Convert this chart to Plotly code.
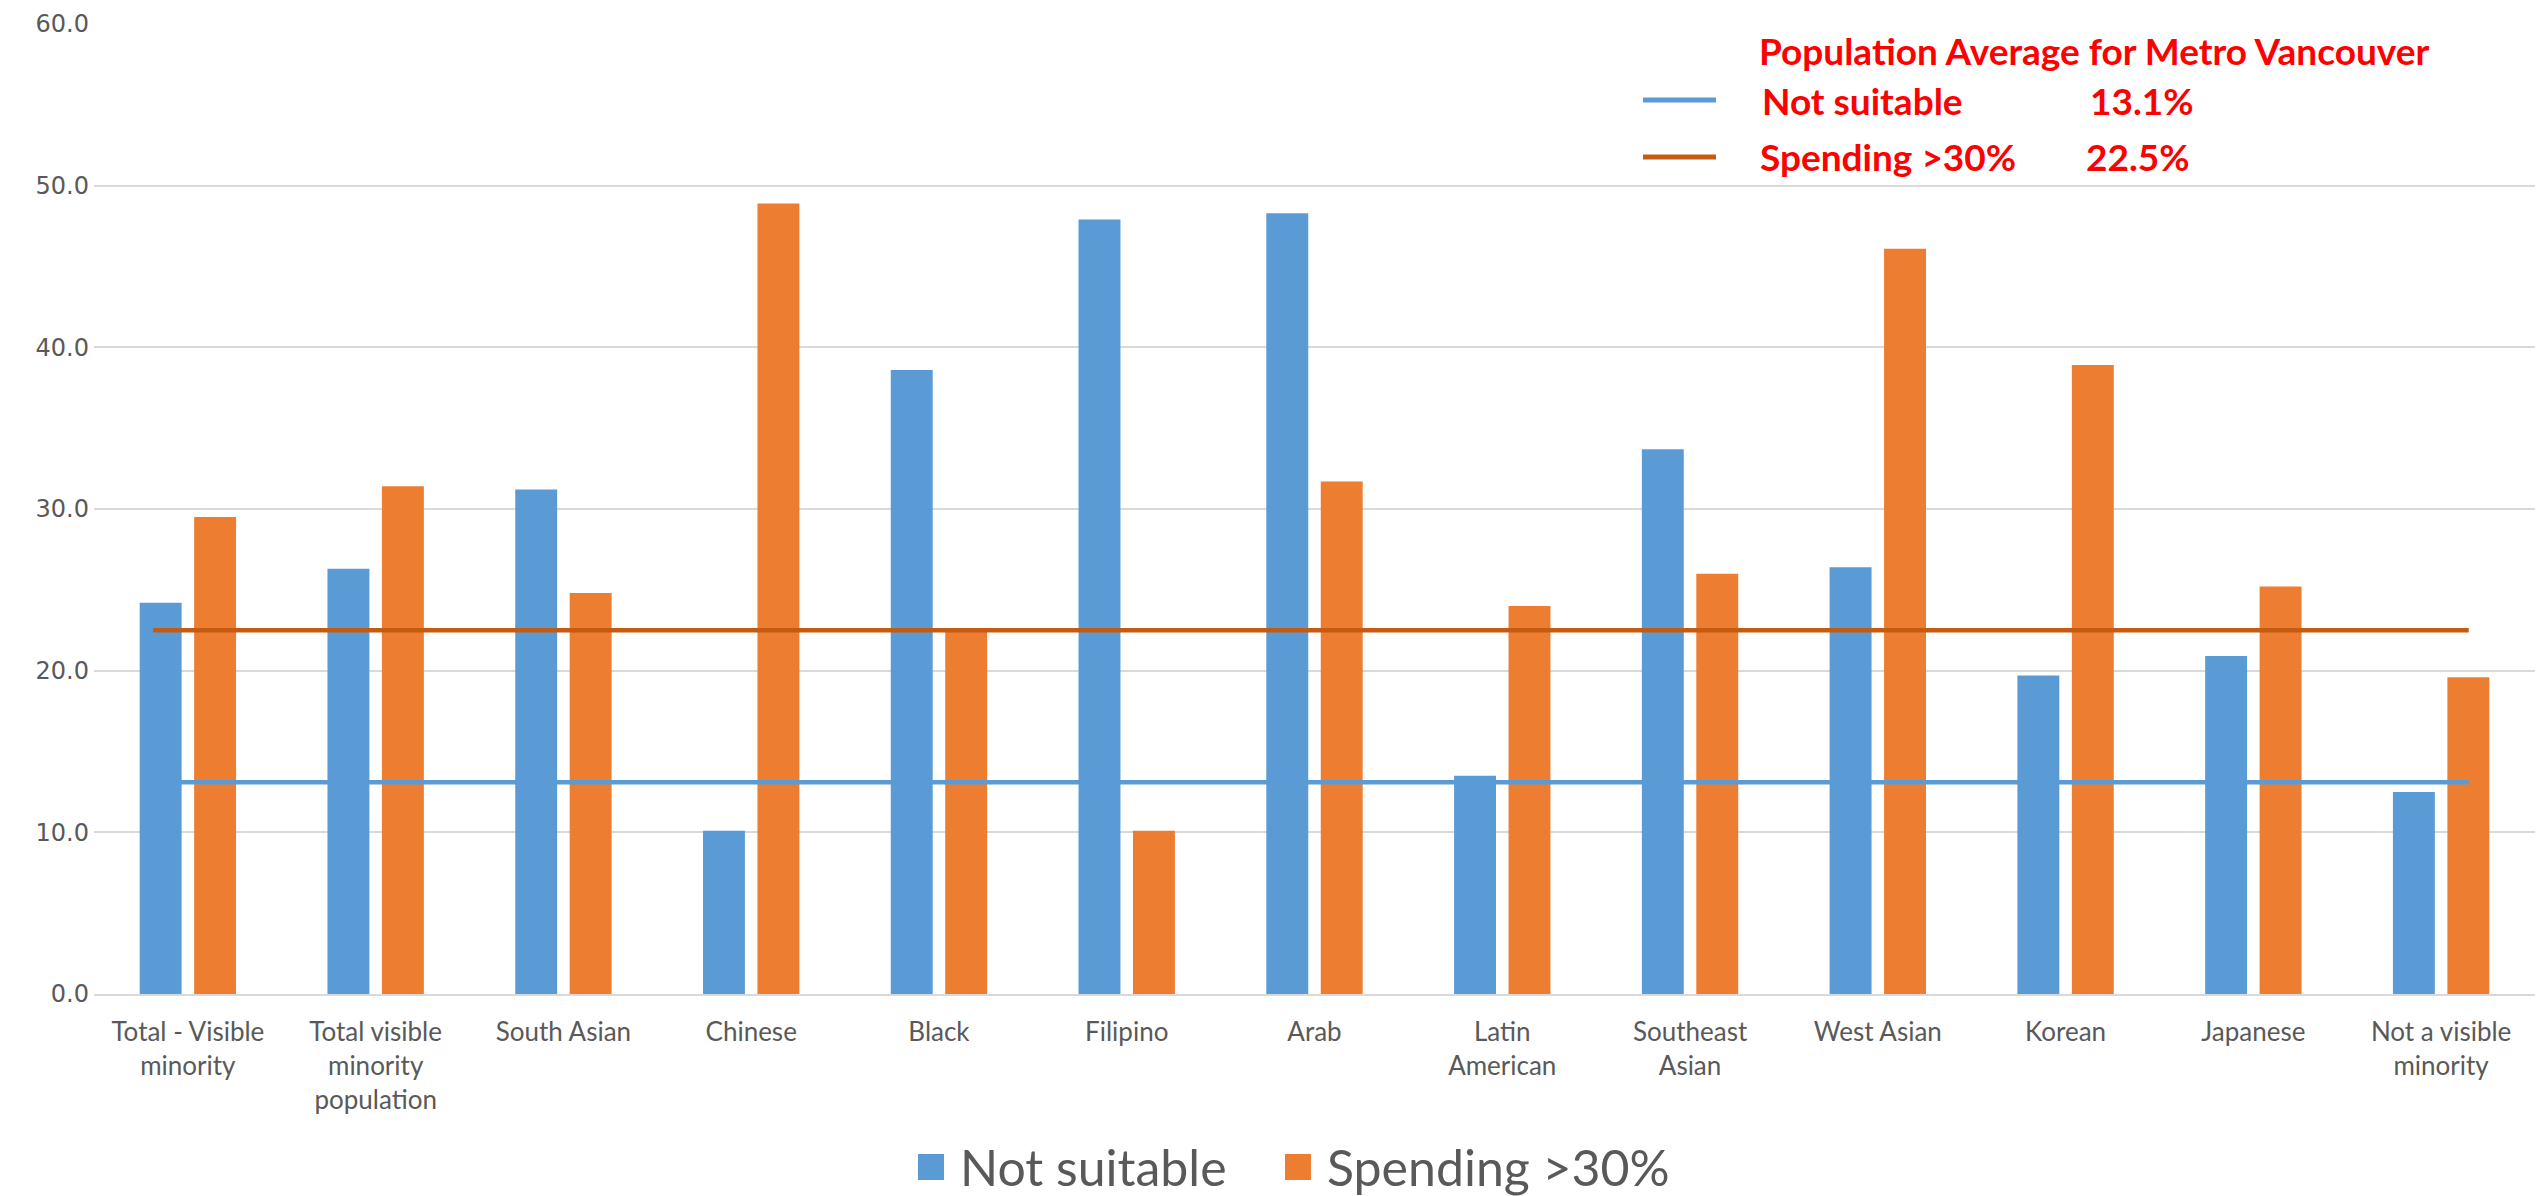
import plotly.graph_objects as go

# Housing indicators by visible minority group, Metro Vancouver (%)
categories = [
    "Total - Visible<br>minority",
    "Total visible<br>minority<br>population",
    "South Asian",
    "Chinese",
    "Black",
    "Filipino",
    "Arab",
    "Latin<br>American",
    "Southeast<br>Asian",
    "West Asian",
    "Korean",
    "Japanese",
    "Not a visible<br>minority",
]
not_suitable = [24.2, 26.3, 31.2, 10.1, 38.6, 47.9, 48.3, 13.5, 33.7, 26.4, 19.7, 20.9, 12.5]
spending_30 = [29.5, 31.4, 24.8, 48.9, 22.6, 10.1, 31.7, 24.0, 26.0, 46.1, 38.9, 25.2, 19.6]

# Metro Vancouver population averages
avg_not_suitable = 13.1
avg_spending_30 = 22.5

y_ticks = [0, 10, 20, 30, 40, 50, 60]

BLUE = "#5B9BD5"
ORANGE = "#ED7D31"
DARK_ORANGE = "#C55A11"
GRID = "#D9D9D9"
TEXT = "#595959"
RED = "#FF0000"

W, H = 2539, 1196
M_L, M_R, M_T, M_B = 94, 4, 24, 202
PW, PH = W - M_L - M_R, H - M_T - M_B


def px(x):
    """Canvas x pixel -> paper fraction."""
    return (x - M_L) / PW


def py(y):
    """Canvas y pixel -> paper fraction."""
    return (H - M_B - y) / PH


idx = list(range(len(categories)))

fig = go.Figure()
fig.add_trace(go.Bar(x=idx, y=not_suitable, name="Not suitable",
                     marker=dict(color=BLUE, line=dict(width=0)), showlegend=False))
fig.add_trace(go.Bar(x=idx, y=spending_30, name="Spending >30%",
                     marker=dict(color=ORANGE, line=dict(width=0)), showlegend=False))

# average reference lines spanning the categories
line_x = [idx[0] - 0.185, idx[-1] + 0.147]
fig.add_trace(go.Scatter(x=line_x, y=[avg_not_suitable] * 2, mode="lines",
                         line=dict(color=BLUE, width=4.5), showlegend=False,
                         hoverinfo="skip"))
fig.add_trace(go.Scatter(x=line_x, y=[avg_spending_30] * 2, mode="lines",
                         line=dict(color=DARK_ORANGE, width=4.5), showlegend=False,
                         hoverinfo="skip"))

shapes = []
annotations = []

# key box for the averages (top right)
BOX_FONT = dict(family="Lato", size=37, color=RED)
annotations.append(dict(xref="paper", yref="paper", x=px(2094), y=py(50),
                        text="<b>Population Average for Metro Vancouver</b>",
                        showarrow=False, xanchor="center", yanchor="middle",
                        font=BOX_FONT))
for yy, col, label, val, xl, xv in [
    (100, BLUE, "Not suitable", avg_not_suitable, 1760, 2088),
    (157, DARK_ORANGE, "Spending >30%", avg_spending_30, 1758, 2084),
]:
    shapes.append(dict(type="line", xref="paper", yref="paper",
                       x0=px(1643), x1=px(1716), y0=py(yy), y1=py(yy),
                       line=dict(color=col, width=5)))
    annotations.append(dict(xref="paper", yref="paper", x=px(xl), y=py(yy),
                            text=f"<b>{label}</b>", showarrow=False,
                            xanchor="left", yanchor="middle", font=BOX_FONT))
    annotations.append(dict(xref="paper", yref="paper", x=px(xv), y=py(yy),
                            text=f"<b>{val:.1f}%</b>", showarrow=False,
                            xanchor="left", yanchor="middle", font=BOX_FONT))

# series key (bottom)
LEG_FONT = dict(family="Lato", size=50, color=TEXT)
for x0, col, label, xt in [(918, BLUE, "Not suitable", 958),
                           (1285, ORANGE, "Spending >30%", 1325)]:
    shapes.append(dict(type="rect", xref="paper", yref="paper",
                       x0=px(x0), x1=px(x0 + 26), y0=py(1154), y1=py(1180),
                       fillcolor=col, line=dict(width=0)))
    annotations.append(dict(xref="paper", yref="paper", x=px(xt), y=py(1167),
                            text=label, showarrow=False, xanchor="left",
                            yanchor="middle", font=LEG_FONT))

fig.update_layout(
    width=W, height=H, autosize=False,
    margin=dict(l=M_L, r=M_R, t=M_T, b=M_B),
    paper_bgcolor="white", plot_bgcolor="white",
    barmode="group", bargap=0.42, bargroupgap=0.23,
    shapes=shapes, annotations=annotations,
    showlegend=False,
    xaxis=dict(
        range=[-0.5, len(categories) - 0.5],
        tickmode="array", tickvals=idx, ticktext=categories,
        tickangle=0, showgrid=False, zeroline=False,
        showline=True, linecolor=GRID, linewidth=2,
        ticks="", ticklabelstandoff=14,
        tickfont=dict(family="Lato", size=26, color=TEXT),
    ),
    yaxis=dict(
        range=[0, 60], tickmode="array", tickvals=y_ticks,
        tickformat=".1f", showgrid=True, gridcolor=GRID, gridwidth=1.5,
        zeroline=False, showline=False, ticks="", ticklabelstandoff=4,
        tickfont=dict(family="DejaVu Sans", size=24, color=TEXT),
    ),
)

fig.write_html("out.html")
